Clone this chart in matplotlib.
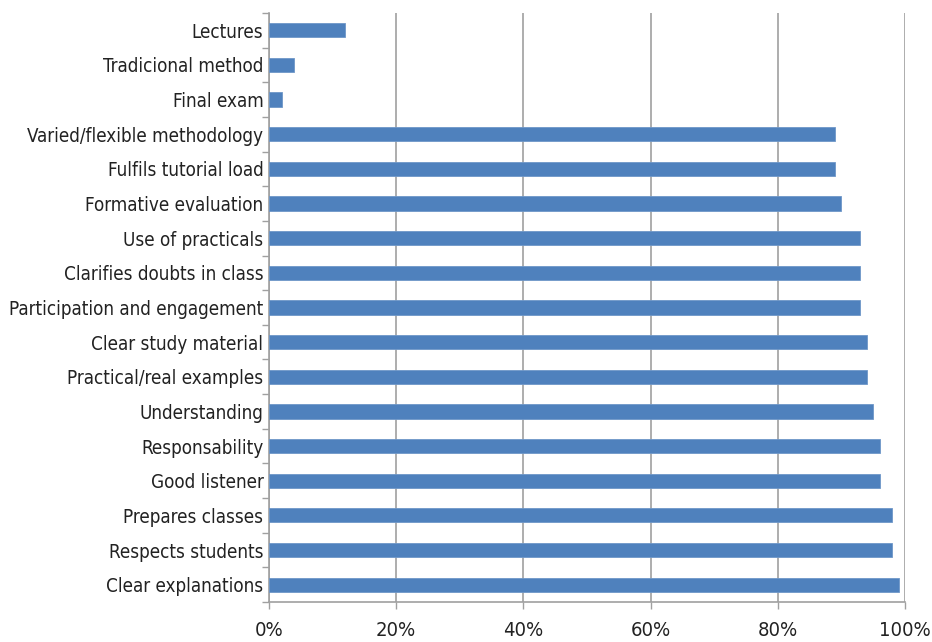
import matplotlib.pyplot as plt
import numpy as np
from matplotlib.ticker import FixedLocator, PercentFormatter

CATEGORIES = [
    "Lectures",
    "Tradicional method",
    "Final exam",
    "Varied/flexible methodology",
    "Fulfils tutorial load",
    "Formative evaluation",
    "Use of practicals",
    "Clarifies doubts in class",
    "Participation and engagement",
    "Clear study material",
    "Practical/real examples",
    "Understanding",
    "Responsability",
    "Good listener",
    "Prepares classes",
    "Respects students",
    "Clear explanations",
]
VALUES = [12, 4, 2, 89, 89, 90, 93, 93, 93, 94, 94, 95, 96, 96, 98, 98, 99]
X_TICKS = [0, 20, 40, 60, 80, 100]

BAR_COLOR = "#4f81bd"
GRID_COLOR = "#a0a0a0"

plt.rcParams["font.family"] = ["DejaVu Sans"]
plt.rcParams["font.stretch"] = "condensed"

fig = plt.figure(figsize=(9.32, 6.42), dpi=100)
ax = fig.add_axes([0.2886, 0.0623, 0.6824, 0.9175])

y = np.arange(len(CATEGORIES))
ax.barh(y, VALUES, height=0.41, color=BAR_COLOR, edgecolor="#6f97c8", linewidth=0.6, zorder=3)

ax.set_xlim(0, 100)
ax.set_ylim(len(CATEGORIES) - 0.5, -0.5)

ax.set_xticks(X_TICKS)
ax.xaxis.set_major_formatter(PercentFormatter(decimals=0))
ax.set_yticks(y)
ax.set_yticklabels(CATEGORIES)
ax.yaxis.set_minor_locator(FixedLocator(np.arange(-0.5, len(CATEGORIES), 1.0)))

ax.tick_params(axis="y", which="major", length=0, pad=4, labelsize=13.5, labelcolor="#222222")
ax.tick_params(axis="y", which="minor", length=5, width=1, color=GRID_COLOR)
ax.tick_params(axis="x", which="major", length=5, width=1, color=GRID_COLOR,
               pad=9, labelsize=14.5, labelcolor="#222222")

ax.grid(axis="x", color=GRID_COLOR, linewidth=1.2, zorder=0)
for side in ["top", "right"]:
    ax.spines[side].set_visible(False)
for side in ["left", "bottom"]:
    ax.spines[side].set_color(GRID_COLOR)
    ax.spines[side].set_linewidth(1.2)

fig.savefig("out.png", dpi=100)
